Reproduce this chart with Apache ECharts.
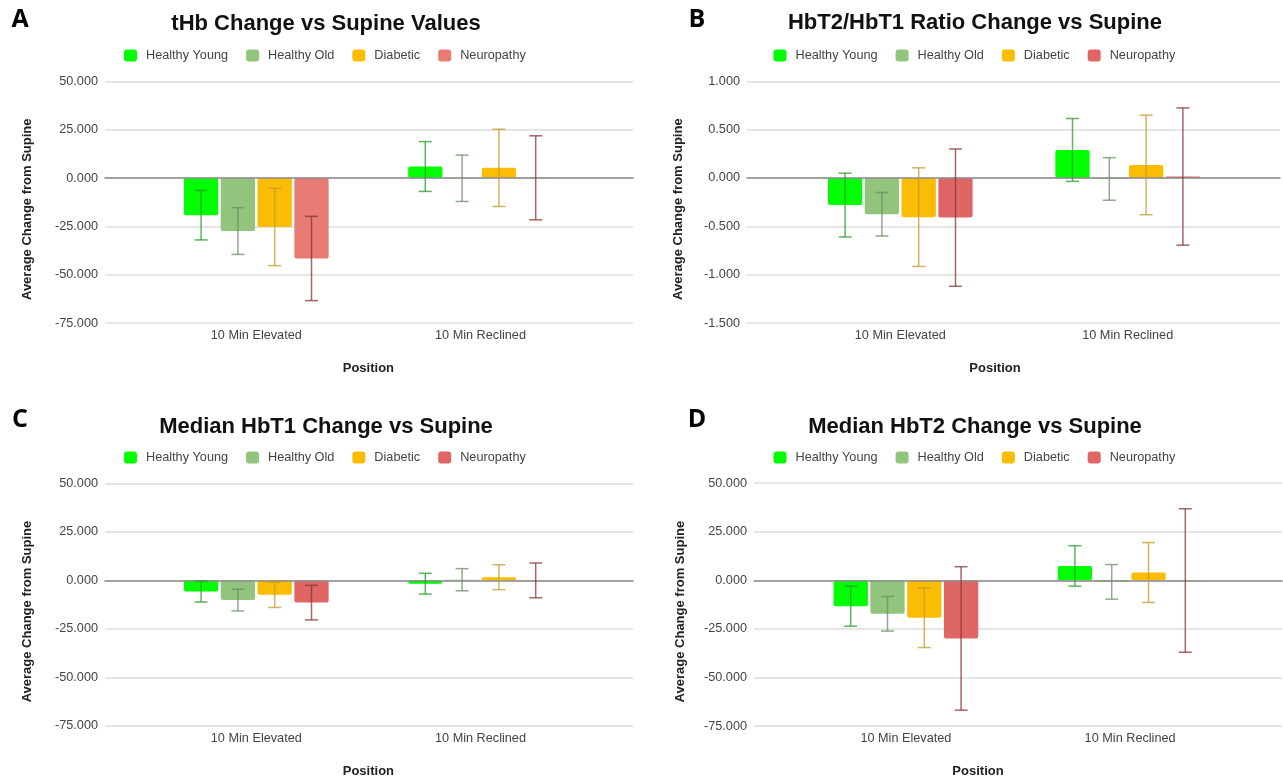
<!DOCTYPE html>
<html>
<head>
<meta charset="utf-8">
<script src="https://cdn.jsdelivr.net/npm/echarts@6/dist/echarts.min.js"></script>
<style>
  html, body { margin: 0; padding: 0; background: #ffffff; }
  #main { width: 1283px; height: 780px; }
</style>
</head>
<body>
<div id="main"></div>
<script>
// ---------------- DATA ----------------
const categories = ['10 Min Elevated', '10 Min Reclined'];
const groups = ['Healthy Young', 'Healthy Old', 'Diabetic', 'Neuropathy'];

// Panel A: tHb Change vs Supine Values  (rows = groups, cols = categories)
const tHbMeans  = [[-19.2, 6.0], [-27.4, -0.1], [-25.3, 5.3], [-41.6, 0.15]];
const tHbErrors = [[12.8, 12.9], [12.1, 12.0], [20.0, 20.0], [21.8, 21.75]];

// Panel B: HbT2/HbT1 Ratio Change vs Supine
const ratioMeans  = [[-0.28, 0.29], [-0.375, -0.01], [-0.405, 0.135], [-0.41, 0.015]];
const ratioErrors = [[0.33, 0.325], [0.225, 0.22], [0.51, 0.515], [0.71, 0.71]];

// Panel C: Median HbT1 Change vs Supine
const hbt1Means  = [[-5.8, -1.75], [-10.2, 0.3], [-7.5, 1.6], [-11.5, -0.05]];
const hbt1Errors = [[5.4, 5.35], [5.6, 5.7], [6.5, 6.4], [8.9, 8.95]];

// Panel D: Median HbT2 Change vs Supine
const hbt2Means  = [[-13.3, 7.4], [-17.2, -0.8], [-19.3, 4.0], [-29.9, -0.1]];
const hbt2Errors = [[10.3, 10.4], [8.9, 8.9], [15.3, 15.4], [36.9, 36.9]];

// Axis ticks
const ticksLarge = [-75, -50, -25, 0, 25, 50];
const ticksRatio = [-1.5, -1.0, -0.5, 0, 0.5, 1.0];

const panelLetters = ['A', 'B', 'C', 'D'];
const panelTitles = [
  'tHb Change vs Supine Values',
  'HbT2/HbT1 Ratio Change vs Supine',
  'Median HbT1 Change vs Supine',
  'Median HbT2 Change vs Supine'
];
const yAxisTitle = 'Average Change from Supine';
const xAxisTitle = 'Position';

// ---------------- STYLE / LAYOUT ----------------
const barColorsA = ['#00ff00', '#93c47d', '#fbbc04', '#e67c73'];
const barColorsB = ['#00ff00', '#93c47d', '#fbbc04', '#e06666'];
const errColors  = ['#259c25', '#6c8c66', '#c4992c', '#8a3434'];
const FONT = 'Liberation Sans, Arial, sans-serif';

const BAR_W = 34.3;
const BAR_GAP_PX = 2.5;
const STEP = BAR_W + BAR_GAP_PX;

const panels = [
  { means: tHbMeans,   errs: tHbErrors,   ticks: ticksLarge, colors: barColorsA,
    wideL: 105, wideR: 633, narL: 144.2, narW: 448.4, top: 81.5, h: 241.5,
    letter: [20, 20], titlePos: [326, 24], legendL: 124, legendT: 49, yGap: 71, posShift: 0 },
  { means: ratioMeans, errs: ratioErrors, ticks: ticksRatio, colors: barColorsB,
    wideL: 747, wideR: 1280, narL: 786.6, narW: 454.8, top: 81.3, h: 241.7,
    letter: [697, 20], titlePos: [975, 23], legendL: 773.5, legendT: 49, yGap: 62.5, posShift: 19 },
  { means: hbt1Means,  errs: hbt1Errors,  ticks: ticksLarge, colors: barColorsB,
    wideL: 105, wideR: 633, narL: 144.2, narW: 448.4, top: 483.3, h: 242.5,
    letter: [20, 420], titlePos: [326, 427], legendL: 124, legendT: 451, yGap: 71, posShift: 0 },
  { means: hbt2Means,  errs: hbt2Errors,  ticks: ticksLarge, colors: barColorsB,
    wideL: 754, wideR: 1282, narL: 793.8, narW: 448.4, top: 483.1, h: 243,
    letter: [697, 420], titlePos: [975, 427], legendL: 773.5, legendT: 451, yGap: 67, posShift: 40 }
];

const grid = [], xAxis = [], yAxis = [], series = [], legend = [], graphic = [];

panels.forEach((p, pi) => {
  const tMin = p.ticks[0], tMax = p.ticks[p.ticks.length - 1];
  const tInt = p.ticks[1] - p.ticks[0];
  const wideIdx = pi * 2, narIdx = pi * 2 + 1;

  // wide grid: gridlines, y labels, zero line
  grid.push({ left: p.wideL, top: p.top, width: p.wideR - p.wideL, height: p.h, containLabel: false });
  // narrow grid: categories & bars
  grid.push({ left: p.narL, top: p.top, width: p.narW, height: p.h, containLabel: false });

  xAxis.push({
    type: 'value', gridIndex: wideIdx, min: 0, max: 1, z: 5,
    axisLine: { show: true, onZero: true, lineStyle: { color: '#8c8c8c', width: 1.6 } },
    axisTick: { show: false }, axisLabel: { show: false }, splitLine: { show: false }
  });
  xAxis.push({
    type: 'category', gridIndex: narIdx, data: categories,
    boundaryGap: true,
    axisLine: { show: false }, axisTick: { show: false }, splitLine: { show: false },
    axisLabel: { show: true, color: '#444', fontSize: 12.7, fontFamily: FONT, margin: 6 },
    name: xAxisTitle, nameLocation: 'middle', nameGap: 39,
    nameTextStyle: { fontWeight: 'bold', fontSize: 13, color: '#222', fontFamily: FONT,
                     padding: [0, p.posShift * 2, 0, 0] }
  });

  yAxis.push({
    type: 'value', gridIndex: wideIdx, min: tMin, max: tMax, interval: tInt,
    axisLine: { show: false }, axisTick: { show: false },
    axisLabel: { color: '#444', fontSize: 12.7, fontFamily: FONT, margin: 7,
                 formatter: v => v.toFixed(3) },
    splitLine: { show: true, lineStyle: { color: '#dcdcdc', width: 1.5 } },
    name: yAxisTitle, nameLocation: 'middle', nameGap: p.yGap, nameRotate: 90,
    nameTextStyle: { fontWeight: 'bold', fontSize: 13, color: '#222', fontFamily: FONT,
                     padding: [0, 14, 0, 0] }
  });
  yAxis.push({
    type: 'value', gridIndex: narIdx, min: tMin, max: tMax, interval: tInt, show: false,
    splitLine: { show: false }
  });

  groups.forEach((g, gi) => {
    series.push({
      type: 'bar', name: g, xAxisIndex: narIdx, yAxisIndex: narIdx,
      data: p.means[gi],
      barWidth: BAR_W, barGap: (BAR_GAP_PX / BAR_W * 100).toFixed(2) + '%',
      itemStyle: { color: p.colors[gi], borderRadius: 2 },
      emphasis: { disabled: true }, z: 2
    });
  });

  groups.forEach((g, gi) => {
    const errData = categories.map((c, ci) => [ci, p.means[gi][ci] - p.errs[gi][ci], p.means[gi][ci] + p.errs[gi][ci]]);
    series.push({
      type: 'custom', name: g + ' error', xAxisIndex: narIdx, yAxisIndex: narIdx,
      data: errData, z: 6, silent: true,
      renderItem: (params, api) => {
        const ci = api.value(0);
        const lo = api.coord([ci, api.value(1)]);
        const hi = api.coord([ci, api.value(2)]);
        const x = lo[0] + (gi - 1.5) * STEP;
        const cap = 6.5;
        const st = { stroke: errColors[gi], lineWidth: 1.5, opacity: 0.75 };
        return {
          type: 'group',
          children: [
            { type: 'line', shape: { x1: x, y1: lo[1], x2: x, y2: hi[1] }, style: st },
            { type: 'line', shape: { x1: x - cap, y1: lo[1], x2: x + cap, y2: lo[1] }, style: st },
            { type: 'line', shape: { x1: x - cap, y1: hi[1], x2: x + cap, y2: hi[1] }, style: st }
          ]
        };
      }
    });
  });

  legend.push({
    left: p.legendL, top: p.legendT, orient: 'horizontal', padding: 0,
    icon: 'roundRect', itemWidth: 13, itemHeight: 12, itemGap: 18,
    selectedMode: false,
    textStyle: { color: '#444', fontSize: 12.7, fontFamily: FONT, padding: [0, 0, 0, 4] },
    data: groups.map((g, gi) => ({ name: g, itemStyle: { color: p.colors[gi] } }))
  });

  graphic.push({
    type: 'text', style: {
      x: p.letter[0], y: p.letter[1], text: panelLetters[pi], textAlign: 'center', textVerticalAlign: 'middle',
      font: 'bold 25px "Open Sans", sans-serif', fill: '#000'
    }
  });
  graphic.push({
    type: 'text', style: {
      x: p.titlePos[0], y: p.titlePos[1], text: panelTitles[pi], textAlign: 'center', textVerticalAlign: 'middle',
      font: 'bold 22px ' + FONT, fill: '#111'
    }
  });
});

const chart = echarts.init(document.getElementById('main'), null, { renderer: 'canvas' });
chart.setOption({
  animation: false,
  backgroundColor: '#ffffff',
  grid, xAxis, yAxis, series, legend,
  graphic: { elements: graphic }
});
</script>
</body>
</html>
